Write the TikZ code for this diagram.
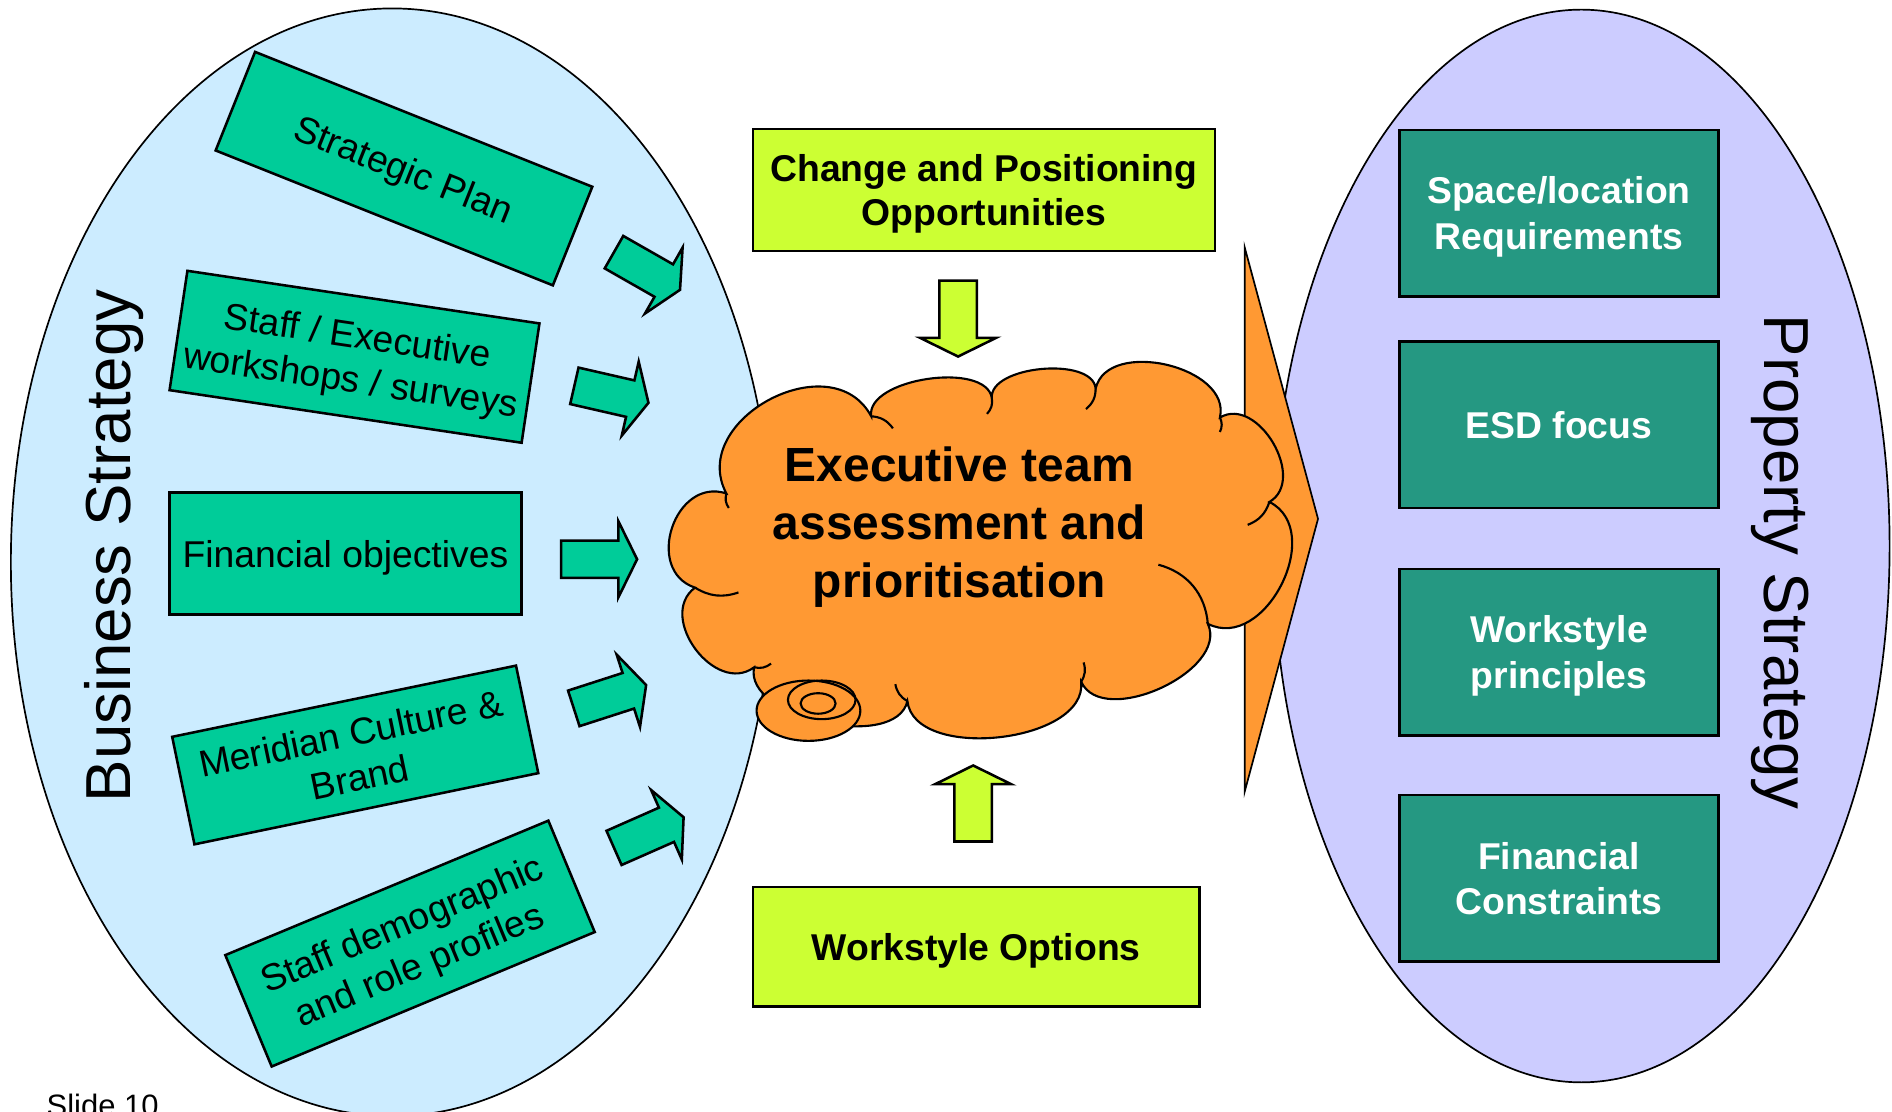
\documentclass[tikz,border=0pt]{standalone}
\usepackage{fontspec}
\setmainfont{Liberation Sans}

\definecolor{skyblue}{HTML}{CCECFF}
\definecolor{lavender}{HTML}{CCCCFF}
\definecolor{mint}{HTML}{00CC99}
\definecolor{seagreen}{HTML}{259882}
\definecolor{lemon}{HTML}{CCFF33}
\definecolor{tangerine}{HTML}{FF9933}

\tikzset{
  basebox/.style={draw, line width=0.6pt, inner sep=0pt, align=center, text depth=0pt},
  inbox/.style={basebox, fill=mint, font=\fontsize{8.8}{10.5}\selectfont},
  outbox/.style={basebox, fill=seagreen, text=white, minimum width=2.64cm, minimum height=1.38cm, font=\bfseries\fontsize{8.8}{10.8}\selectfont},
  optbox/.style={basebox, fill=lemon, font=\bfseries\fontsize{8.8}{10.5}\selectfont},
  lobe/.style={bend left=90, looseness=#1},
  wisp/.style={bend left=25},
  fatarrow/.pic={\path[pic actions] (-0.315,-0.155) -- (0.16,-0.155) -- (0.16,-0.315) -- (0.315,0) -- (0.16,0.315) -- (0.16,0.155) -- (-0.315,0.155) -- cycle;}
}

\begin{document}
\begin{tikzpicture}
  \useasboundingbox (0,0) rectangle (15.68,9.21);

  % the two strategies
  \draw[fill=skyblue] (3.25,4.55) ellipse (3.16cm and 4.59cm);
  \draw[fill=lavender] (13.105,4.685) ellipse (2.555cm and 4.445cm);
  \node[rotate=90, anchor=base, font=\fontsize{15}{18}\selectfont] (business) at (1.08,4.685) {Business Strategy};
  \node[rotate=-90, anchor=base, font=\fontsize{15}{18}\selectfont] (property) at (14.62,4.55) {Property Strategy};

  % inputs
  \node[inbox, rotate=-21.8, minimum width=3.01cm, minimum height=0.88cm] (plan) at (3.348,7.8125) {Strategic Plan};
  \node[inbox, rotate=-8.5, minimum width=2.95cm, minimum height=1.0cm] (staff) at (2.938,6.253) {Staff / Executive\\workshops / surveys};
  \node[inbox, minimum width=2.92cm, minimum height=1.01cm] (finance) at (2.863,4.622) {Financial objectives};
  \node[inbox, rotate=11.7, minimum width=2.91cm, minimum height=0.91cm] (brand) at (2.944,2.953) {Meridian Culture \&\\Brand};
  \node[inbox, rotate=22.6, minimum width=2.90cm, minimum height=1.0cm] (profiles) at (3.398,1.39) {Staff demographic\\and role profiles};

  \foreach \x/\y/\a in {5.362/6.964/-29.7, 5.067/5.942/-12.9, 4.965/4.575/0, 5.055/3.436/17.9, 5.377/2.31/23.8}
    \pic[draw, fill=mint, line width=0.6pt, rotate=\a] at (\x,\y) {fatarrow};

  % big arrow behind the cloud
  \draw[fill=tangerine] (9.0,5.727) -- (10.315,5.727) -- (10.315,7.161) -- (10.923,4.91) -- (10.315,2.648) -- (10.315,4.094) -- (9.0,4.094) -- cycle;

  % cloud
  \coordinate (c1) at (6.02,5.12);
  \coordinate (c2) at (7.22,5.76);
  \coordinate (c3) at (8.22,5.91);
  \coordinate (c4) at (9.08,5.99);
  \coordinate (c5) at (10.11,5.75);
  \coordinate (c6) at (10.52,5.05);
  \coordinate (c7) at (10.01,4.04);
  \coordinate (c8) at (8.96,3.56);
  \coordinate (c9) at (7.52,3.40);
  \coordinate (c10) at (6.25,3.68);
  \coordinate (c11) at (5.76,4.34);
  \draw[fill=tangerine, line width=0.5pt] (c1) to[lobe=1.3] (c2) to[lobe=0.8] (c3) to[lobe=0.8] (c4) to[lobe=1.05] (c5) to[lobe=1.15] (c6) to[lobe=1.2] (c7) to[lobe=0.95] (c8) to[lobe=0.9] (c9) to[lobe=0.85] (c10) to[lobe=1.25] (c11) to[lobe=1.4] (c1) -- cycle;
  \draw[line width=0.5pt] (c2) to[wisp] (7.40,5.66);
  \draw[line width=0.5pt] (c3) to[wisp] (8.18,5.78);
  \draw[line width=0.5pt] (c4) to[wisp] (9.00,5.82);
  \draw[line width=0.5pt] (c5) to[wisp] (10.11,5.63);
  \draw[line width=0.5pt] (c6) to[wisp] (10.34,4.86);
  \draw[line width=0.5pt] (c9) to[wisp] (7.42,3.54);
  \draw[line width=0.5pt] (6.04,5.00) to[wisp] (c1);
  \draw[line width=0.5pt] (9.60,4.53) to[bend left=35] (c7);
  \draw[line width=0.5pt] (8.98,3.72) to[wisp] (c8);
  \draw[line width=0.5pt] (6.39,3.71) to[wisp] (c10);
  \draw[line width=0.5pt] (6.12,4.30) to[wisp] (c11);
  \draw[fill=tangerine, line width=0.5pt] (6.70,3.32) ellipse (0.43cm and 0.25cm);
  \draw[line width=0.5pt] (6.81,3.41) ellipse (0.28cm and 0.16cm);
  \draw[line width=0.5pt] (6.78,3.38) ellipse (0.145cm and 0.085cm);
  \node[font=\bfseries\fontsize{11.3}{13.7}\selectfont, align=center, text depth=0pt] (exec) at (7.95,4.88) {Executive team\\assessment and\\prioritisation};

  % opportunities and options
  \node[optbox, minimum width=3.83cm, minimum height=1.01cm] (change) at (8.155,7.635) {Change and Positioning\\Opportunities};
  \node[optbox, minimum width=3.70cm, minimum height=0.99cm] (options) at (8.09,1.365) {Workstyle Options};
  \pic[draw, fill=lemon, line width=0.6pt, rotate=-90] at (7.94,6.57) {fatarrow};
  \pic[draw, fill=lemon, line width=0.6pt, rotate=90] at (8.065,2.551) {fatarrow};

  % outputs
  \node[outbox] (space) at (12.92,7.442) {Space/location\\Requirements};
  \node[outbox] (esd) at (12.92,5.691) {ESD focus};
  \node[outbox] (principles) at (12.92,3.806) {Workstyle\\principles};
  \node[outbox] (constraints) at (12.92,1.93) {Financial\\Constraints};

  \node[anchor=base west, inner sep=0pt, font=\fontsize{7.3}{8.8}\selectfont] (slide) at (0.38,-0.04) {Slide 10};
\end{tikzpicture}
\end{document}
